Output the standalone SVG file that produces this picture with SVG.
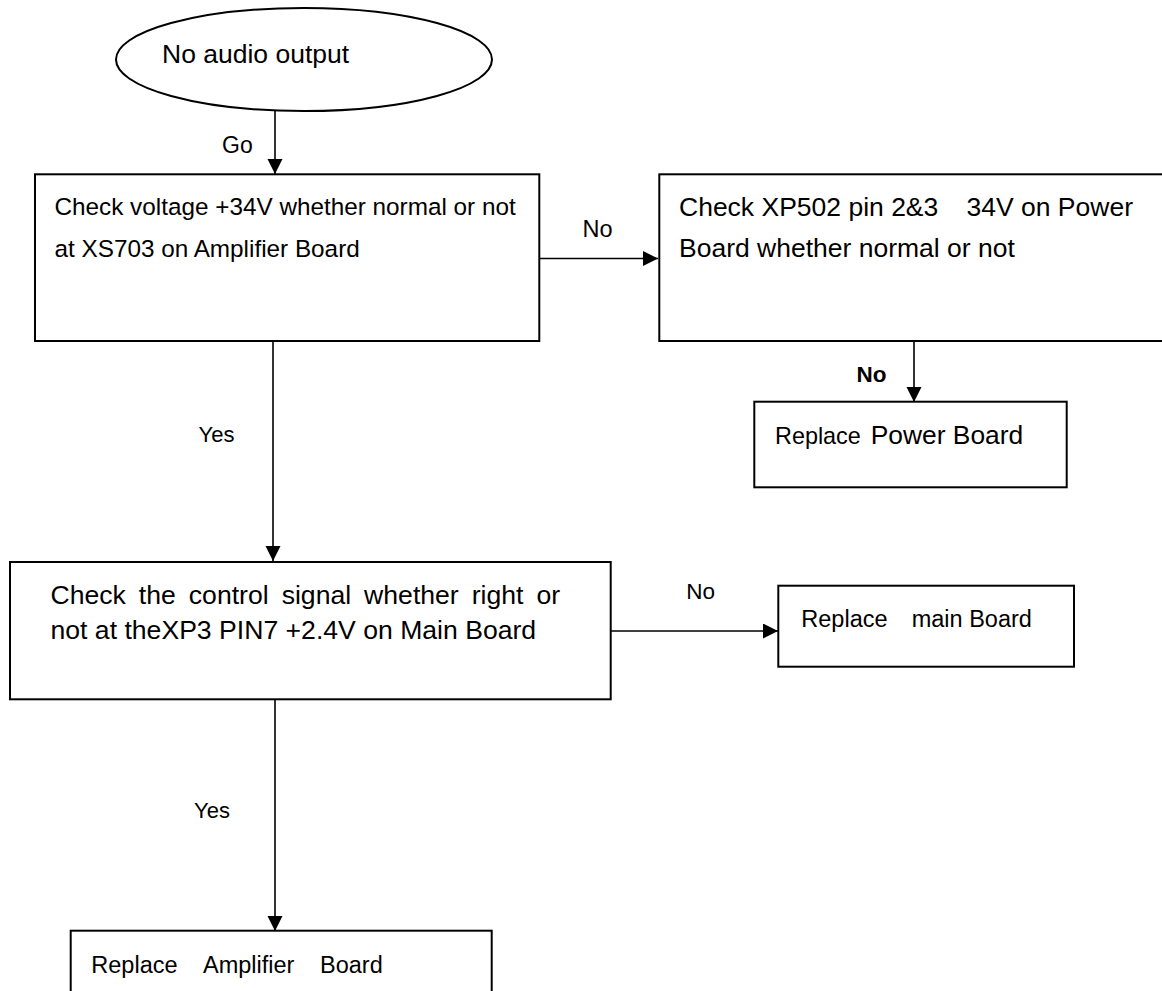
<svg xmlns="http://www.w3.org/2000/svg" width="1162" height="991" viewBox="0 0 1162 991">
<style>
.box{fill:#fff;stroke:#000;stroke-width:2}
.t{font-family:"Liberation Sans",Arial,sans-serif;fill:#000}
.c{stroke:#000;stroke-width:1.6;fill:none;marker-end:url(#ah)}
</style>
<defs>
<marker id="ah" markerUnits="userSpaceOnUse" markerWidth="16" markerHeight="16" refX="15" refY="7.5" orient="auto">
<path d="M0,0 L15,7.5 L0,15 z" fill="#000"/>
</marker>
</defs>
<rect width="1162" height="991" fill="#fff"/>
<g id="connectors">
<line class="c" x1="275" y1="111" x2="275" y2="174"/>
<line class="c" x1="540" y1="258.5" x2="658" y2="258.5"/>
<line class="c" x1="914" y1="341" x2="914" y2="402"/>
<line class="c" x1="273" y1="341" x2="273" y2="561"/>
<line class="c" x1="611" y1="631" x2="778" y2="631"/>
<line class="c" x1="275" y1="699" x2="275" y2="931"/>
<text class="t" x="222" y="153" font-size="23">Go</text>
<text class="t" x="582.5" y="236.7" font-size="23.5">No</text>
<text class="t" x="856.5" y="381.7" font-size="22.5" font-weight="bold">No</text>
<text class="t" x="198.5" y="442.3" font-size="22">Yes</text>
<text class="t" x="686.3" y="599.3" font-size="22.5">No</text>
<text class="t" x="194" y="817.7" font-size="22">Yes</text>
</g>
<g id="start">
<ellipse cx="304" cy="59.5" rx="188" ry="51.5" fill="#fff" stroke="#000" stroke-width="2"/>
<text class="t" x="162" y="63.3" font-size="26.5">No audio output</text>
</g>
<g id="check-voltage">
<rect class="box" x="35" y="174.3" width="504.3" height="166.7"/>
<text class="t" x="54.5" y="215" font-size="24.3">Check voltage +34V whether normal or not</text>
<text class="t" x="54.5" y="256.5" font-size="24.3">at XS703 on Amplifier Board</text>
</g>
<g id="check-xp502">
<rect class="box" x="659.3" y="174.3" width="520" height="166.7"/>
<text class="t" x="679" y="215.5" font-size="26.5">Check XP502 pin 2&amp;3<tspan x="966.5">34V on Power</tspan></text>
<text class="t" x="679" y="256.5" font-size="26.5">Board whether normal or not</text>
</g>
<g id="replace-power">
<rect class="box" x="754.3" y="401.7" width="312.4" height="85.6"/>
<text class="t" x="775" y="444" font-size="23.4">Replace<tspan x="870.7" font-size="26.4">Power Board</tspan></text>
</g>
<g id="check-control">
<rect class="box" x="10" y="562" width="600.7" height="137.3"/>
<text class="t" x="50.5" y="603.5" font-size="26.6" word-spacing="5.6">Check the control signal whether right or</text>
<text class="t" x="50.5" y="639" font-size="26.6">not at theXP3 PIN7 +2.4V on Main Board</text>
</g>
<g id="replace-main">
<rect class="box" x="778.3" y="585.7" width="295.7" height="81"/>
<text class="t" x="801.3" y="626.7" font-size="23.5">Replace<tspan x="911.7">main Board</tspan></text>
</g>
<g id="replace-amplifier">
<rect class="box" x="70.7" y="930.7" width="421" height="80"/>
<text class="t" x="91.3" y="973.3" font-size="23.5">Replace<tspan x="203">Amplifier</tspan><tspan x="320">Board</tspan></text>
</g>
</svg>
